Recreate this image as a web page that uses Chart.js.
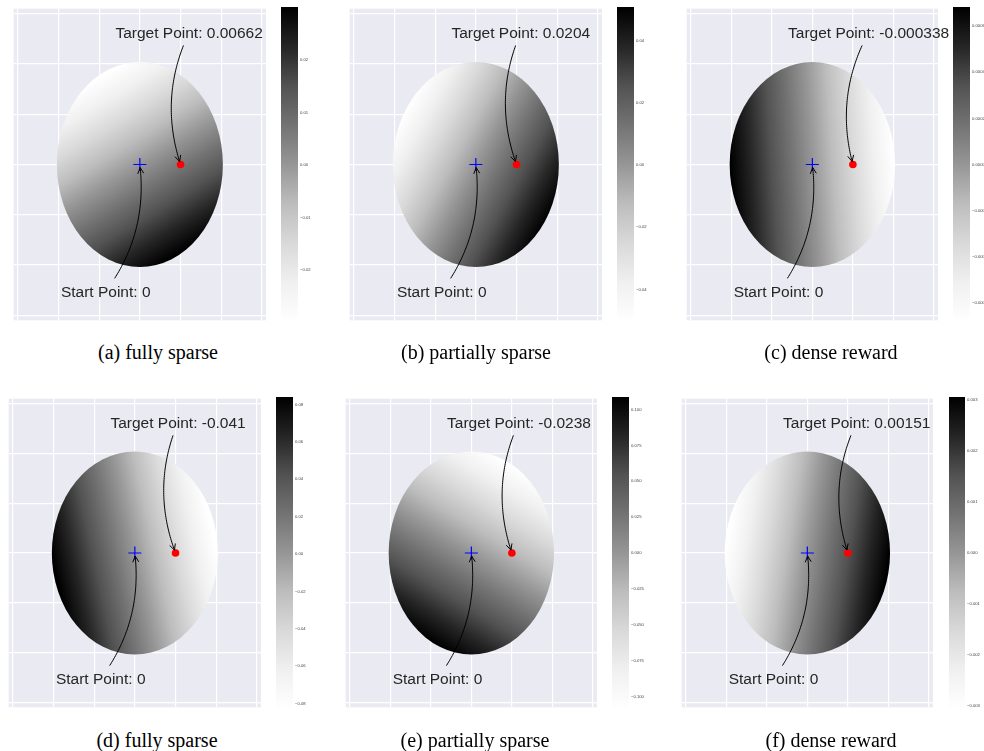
<!DOCTYPE html>
<html>
<head>
<meta charset="utf-8">
<script src="https://cdn.jsdelivr.net/npm/chart.js@4"></script>
<style>
  html, body { margin: 0; padding: 0; background: #ffffff; }
  body { width: 984px; height: 751px; position: relative; overflow: hidden; }
  canvas { position: absolute; }
  .caption {
    position: absolute; width: 260px; text-align: center;
    font-family: "Liberation Serif", serif; font-size: 20px; line-height: 20px; color: #000;
  }
</style>
</head>
<body>
<script>
// ---- data ----
const panelCaptions = ['(a) fully sparse', '(b) partially sparse', '(c) dense reward',
                       '(d) fully sparse', '(e) partially sparse', '(f) dense reward'];
const targetLabels = ['0.00662', '0.0204', '-0.000338', '-0.041', '-0.0238', '0.00151'];
const startLabels = ['0', '0', '0', '0', '0', '0'];
const startPoint = { x: 0, y: 0 };
const targetPoint = { x: 1, y: 0 };
// value of the reward field changes linearly across the disc
const slopeX = [0.00662, 0.0204, -0.000338, -0.041, -0.0238, 0.00151];
const slopeY = [-0.0135, -0.0139, -0.00003, -0.011, -0.048, -0.0003];
const discRadius = 2.04;
const axisMin = -3.1;
const axisMax = 3.1;
const gridTicks = [-3, -2, -1, 0, 1, 2, 3];
// colour bars
const cbarMin = [-0.0299, -0.0505, -0.000683, -0.0829, -0.1087, -0.00306];
const cbarMax = [0.0301, 0.0508, 0.000683, 0.084, 0.1087, 0.00306];
const cbarTicks = [
  [-0.02, -0.01, 0, 0.01, 0.02],
  [-0.04, -0.02, 0, 0.02, 0.04],
  [-0.0006, -0.0004, -0.0002, 0, 0.0002, 0.0004, 0.0006],
  [-0.08, -0.06, -0.04, -0.02, 0, 0.02, 0.04, 0.06, 0.08],
  [-0.1, -0.075, -0.05, -0.025, 0, 0.025, 0.05, 0.075, 0.1],
  [-0.003, -0.002, -0.001, 0, 0.001, 0.002, 0.003]
];
const cbarDecimals = [2, 2, 4, 2, 3, 3];
// annotation text anchors (left, baseline) in data units
const targetTextAt = { x: -0.6, y: 2.52 };
const startTextAt = { x: -1.94, y: -2.63 };

// ---- layout ----
const plotBoxes = [
  [12, 7, 254, 315], [348, 7, 254, 315], [685, 7, 253, 315],
  [7, 397, 254, 312], [344, 397, 253, 312], [680, 397, 253, 312]
];
const cbarBoxes = [
  [281, 7, 17, 315], [617, 7, 17, 315], [953, 7, 17, 315],
  [276, 397, 17, 312], [612, 397, 17, 312], [949, 397, 16, 312]
];
const captionCenters = [[158, 342], [476, 342], [831, 342], [157, 730], [475, 730], [831, 730]];

const greys = ['#ffffff', '#f0f0f0', '#d9d9d9', '#bdbdbd', '#969696', '#737373', '#525252', '#252525', '#000000'];
const textColor = '#262626';
const annFont = 15.5;

function addCanvas(left, top, w, h) {
  const c = document.createElement('canvas');
  c.width = w; c.height = h;
  c.style.left = left + 'px'; c.style.top = top + 'px';
  c.style.width = w + 'px'; c.style.height = h + 'px';
  document.body.appendChild(c);
  return c;
}

// background of the axes
const bgPlugin = {
  id: 'axesBg',
  beforeDraw(chart) {
    const { ctx, chartArea: a } = chart;
    ctx.save();
    ctx.fillStyle = '#eaeaf2';
    ctx.fillRect(a.left, a.top, a.right - a.left, a.bottom - a.top);
    ctx.restore();
  }
};

// the shaded disc, placed through the scales
const fieldPlugin = {
  id: 'field',
  beforeDatasetsDraw(chart, args, opts) {
    const i = opts.index;
    const { ctx, scales: { x, y } } = chart;
    const cx = x.getPixelForValue(0), cy = y.getPixelForValue(0);
    const sx = x.getPixelForValue(1) - cx, sy = cy - y.getPixelForValue(1);
    const rx = discRadius * sx, ry = discRadius * sy;
    const gx = slopeX[i] / sx, gy = -slopeY[i] / sy;
    const g2 = gx * gx + gy * gy;
    const grad = ctx.createLinearGradient(
      cx + gx * cbarMin[i] / g2, cy + gy * cbarMin[i] / g2,
      cx + gx * cbarMax[i] / g2, cy + gy * cbarMax[i] / g2);
    greys.forEach((c, k) => grad.addColorStop(k / (greys.length - 1), c));
    ctx.save();
    ctx.beginPath();
    ctx.ellipse(cx, cy, rx, ry, 0, 0, Math.PI * 2);
    ctx.fillStyle = grad;
    ctx.fill();
    ctx.restore();
  }
};

function drawAnnotation(chart, label, at, pt) {
  const { ctx, scales: { x, y } } = chart;
  ctx.save();
  ctx.font = annFont + 'px "Liberation Sans", Arial, sans-serif';
  const w = ctx.measureText(label).width;
  const lx = x.getPixelForValue(at.x), by = y.getPixelForValue(at.y);
  const asc = annFont * 0.905, desc = annFont * 0.212;
  const box = { x0: lx - 2, x1: lx + w + 2, y0: by - asc - 2, y1: by + desc + 2 };
  const A = [lx + w / 2, by - (asc - desc) / 2];
  const B = [x.getPixelForValue(pt.x), y.getPixelForValue(pt.y)];
  const rad = 0.2;
  const C = [(A[0] + B[0]) / 2 - rad * (B[1] - A[1]), (A[1] + B[1]) / 2 + rad * (B[0] - A[0])];
  const q = t => [
    (1 - t) * (1 - t) * A[0] + 2 * (1 - t) * t * C[0] + t * t * B[0],
    (1 - t) * (1 - t) * A[1] + 2 * (1 - t) * t * C[1] + t * t * B[1]
  ];
  const inside = p => p[0] > box.x0 && p[0] < box.x1 && p[1] > box.y0 && p[1] < box.y1;
  let t0 = 0;
  while (t0 < 1 && inside(q(t0))) t0 += 0.001;
  const e = q(t0);
  while (t0 < 1 && Math.hypot(q(t0)[0] - e[0], q(t0)[1] - e[1]) < 2.5) t0 += 0.001;
  let t1 = 1;
  while (t1 > 0 && Math.hypot(q(t1)[0] - B[0], q(t1)[1] - B[1]) < 3) t1 -= 0.001;

  ctx.strokeStyle = '#000';
  ctx.lineWidth = 1;
  ctx.beginPath();
  const n = 60;
  for (let k = 0; k <= n; k++) {
    const p = q(t0 + (t1 - t0) * k / n);
    if (k === 0) ctx.moveTo(p[0], p[1]); else ctx.lineTo(p[0], p[1]);
  }
  ctx.stroke();
  const tip = q(t1), prev = q(t1 - 0.02);
  const ang = Math.atan2(tip[1] - prev[1], tip[0] - prev[0]);
  const hl = 6, hw = 3;
  const bx = tip[0] - hl * Math.cos(ang), byy = tip[1] - hl * Math.sin(ang);
  ctx.beginPath();
  ctx.moveTo(bx - hw * Math.sin(ang), byy + hw * Math.cos(ang));
  ctx.lineTo(tip[0], tip[1]);
  ctx.lineTo(bx + hw * Math.sin(ang), byy - hw * Math.cos(ang));
  ctx.stroke();

  ctx.fillStyle = textColor;
  ctx.textBaseline = 'alphabetic';
  ctx.textAlign = 'left';
  ctx.fillText(label, lx, by);
  ctx.restore();
}

const annotationPlugin = {
  id: 'arrows',
  afterDraw(chart, args, opts) {
    const i = opts.index;
    drawAnnotation(chart, 'Target Point: ' + targetLabels[i], targetTextAt, targetPoint);
    drawAnnotation(chart, 'Start Point: ' + startLabels[i], startTextAt, startPoint);
  }
};

function gridAxis() {
  return {
    type: 'linear',
    min: axisMin,
    max: axisMax,
    ticks: { display: false },
    grid: { color: '#ffffff', lineWidth: 1.2, drawTicks: false },
    border: { display: false },
    afterBuildTicks: s => { s.ticks = gridTicks.map(v => ({ value: v })); }
  };
}

function createPanel(i) {
  const [L, T, W, H] = plotBoxes[i];
  const padL = 6, padT = 6, padR = 40, padB = 6;
  const canvas = addCanvas(L - padL, T - padT, W + padL + padR, H + padT + padB);
  return new Chart(canvas, {
    type: 'scatter',
    data: {
      datasets: [
        {
          label: 'target',
          data: [targetPoint],
          backgroundColor: '#ff0000',
          borderWidth: 0,
          pointRadius: 3.8
        },
        {
          label: 'start',
          data: [startPoint],
          pointStyle: 'cross',
          borderColor: '#0000ff',
          borderWidth: 1.2,
          pointRadius: 6.5
        }
      ]
    },
    options: {
      responsive: false,
      animation: false,
      layout: { padding: { left: padL, top: padT, right: padR, bottom: padB } },
      plugins: {
        legend: { display: false },
        tooltip: { enabled: false },
        field: { index: i },
        arrows: { index: i }
      },
      scales: { x: gridAxis(), y: gridAxis() }
    },
    plugins: [bgPlugin, fieldPlugin, annotationPlugin]
  });
}

function createColorbar(i) {
  const [L, T, W, H] = cbarBoxes[i];
  const labelSpace = 30;
  const canvas = addCanvas(L, T, W + labelSpace, H);
  return new Chart(canvas, {
    type: 'bar',
    data: {
      labels: [''],
      datasets: [{
        data: [[cbarMin[i], cbarMax[i]]],
        borderWidth: 0,
        borderSkipped: false,
        barPercentage: 1,
        categoryPercentage: 1,
        backgroundColor: ctx => {
          const chart = ctx.chart;
          const a = chart.chartArea;
          if (!a) return '#888';
          const ys = chart.scales.y;
          const g = chart.ctx.createLinearGradient(0, ys.getPixelForValue(cbarMin[i]), 0, ys.getPixelForValue(cbarMax[i]));
          greys.forEach((c, k) => g.addColorStop(k / (greys.length - 1), c));
          return g;
        }
      }]
    },
    options: {
      responsive: false,
      animation: false,
      layout: { padding: 0 },
      plugins: { legend: { display: false }, tooltip: { enabled: false } },
      scales: {
        x: { display: false },
        y: {
          position: 'right',
          min: cbarMin[i],
          max: cbarMax[i],
          grid: { display: false, drawTicks: false },
          border: { display: false },
          ticks: {
            padding: 2,
            color: '#444',
            font: { family: '"Liberation Sans", Arial, sans-serif', size: 4.2 },
            callback: v => v.toFixed(cbarDecimals[i]).replace('-', '\u2212')
          },
          afterBuildTicks: s => { s.ticks = cbarTicks[i].map(v => ({ value: v })); },
          afterFit: s => { s.width = labelSpace; s.paddingTop = 0; s.paddingBottom = 0; }
        }
      }
    }
  });
}

for (let i = 0; i < 6; i++) {
  createPanel(i);
  createColorbar(i);
  const d = document.createElement('div');
  d.className = 'caption';
  d.textContent = panelCaptions[i];
  d.style.left = (captionCenters[i][0] - 130) + 'px';
  d.style.top = captionCenters[i][1] + 'px';
  document.body.appendChild(d);
}
</script>
</body>
</html>
